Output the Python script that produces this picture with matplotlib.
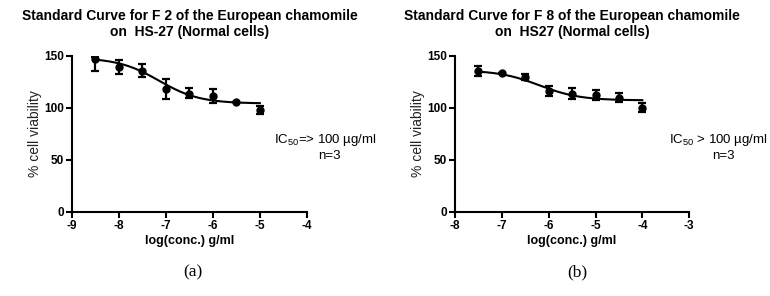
import numpy as np
import matplotlib
matplotlib.use('Agg')
import matplotlib.pyplot as plt
from matplotlib.ticker import FuncFormatter

plt.rcParams['font.family'] = ['Liberation Sans', 'DejaVu Sans']
plt.rcParams['mathtext.fontset'] = 'custom'
plt.rcParams['mathtext.rm'] = 'Liberation Sans'
plt.rcParams['mathtext.it'] = 'Liberation Sans'

# panel (a): F 2 on HS-27
logc_a = [-8.5, -8.0, -7.5, -7.0, -6.5, -6.0, -5.5, -5.0]
viab_a = [147, 139, 135.5, 118, 113.5, 111, 105.5, 98]
err_lo_a = [12, 6.5, 6, 10, 4.5, 7, 0, 4]
err_hi_a = [2, 6.5, 6, 10, 5, 7, 0, 4]
fit_a = [148, 104, -7.15, 1.0]  # top, bottom, logIC50, hill

# panel (b): F 8 on HS27
logc_b = [-7.5, -7.0, -6.5, -6.0, -5.5, -5.0, -4.5, -4.0]
viab_b = [135.5, 133.5, 129.5, 116, 113.5, 112, 109.5, 100]
err_b = [5, 0, 2.5, 5, 5, 5, 4.5, 4.5]
fit_b = [136, 107, -6.2, 1.0]

titles = ['Standard Curve for F 2 of the European chamomile\non  HS-27 (Normal cells)',
          'Standard Curve for F 8 of the European chamomile\non  HS27 (Normal cells)']
ic50_txt = [r'IC$_{50}$=> 100 µg/ml', r'IC$_{50}$ > 100 µg/ml']
xlims = [(-9, -4), (-8, -3)]
panel_lbl = ['(a)', '(b)']


def curve(x, p):
    top, bot, lic, h = p
    return bot + (top - bot) / (1 + 10 ** ((x - lic) * h))


fig = plt.figure(figsize=(7.7, 2.96), dpi=100)
axes = [fig.add_axes([0.0935, 0.285, 0.305, 0.527]),
        fig.add_axes([0.591, 0.285, 0.304, 0.527])]

data = [(logc_a, viab_a, [err_lo_a, err_hi_a], fit_a),
        (logc_b, viab_b, [err_b, err_b], fit_b)]

for i, ax in enumerate(axes):
    x, y, yerr, p = data[i]
    xx = np.linspace(min(x), max(x), 200)
    ax.plot(xx, curve(xx, p), color='black', lw=1.5, zorder=2)
    ax.errorbar(x, y, yerr=yerr, fmt='o', color='black', ms=5,
                elinewidth=1.6, capsize=3, capthick=1.6, zorder=3)
    ax.set_xlim(*xlims[i])
    ax.set_ylim(0, 150)
    ax.set_xticks(np.arange(xlims[i][0], xlims[i][1] + 1, 1))
    ax.set_yticks([0, 50, 100, 150])
    ax.xaxis.set_major_formatter(FuncFormatter(lambda v, pos: '%d' % v))
    for s in ['top', 'right']:
        ax.spines[s].set_visible(False)
    for s in ['left', 'bottom']:
        ax.spines[s].set_linewidth(1.5)
    ax.tick_params(direction='out', length=4, width=1.5, labelsize=8.5, pad=2)
    for lab in ax.get_xticklabels() + ax.get_yticklabels():
        lab.set_fontweight('bold')
    ax.set_xlabel('log(conc.) g/ml', fontsize=9, fontweight='bold', labelpad=2)
    ax.set_ylabel('% cell viability', fontsize=10, labelpad=1, color='#222222')
    ax.set_title(titles[i], fontsize=10, fontweight='bold', pad=14, linespacing=1.2)

fig.text(274 / 770, 1 - 140 / 296, ic50_txt[0], fontsize=9.5, va='center')
fig.text(318 / 770, 1 - 156 / 296, 'n=3', fontsize=9.5, va='center')
fig.text(669 / 770, 1 - 140 / 296, ic50_txt[1], fontsize=9.5, va='center')
fig.text(712 / 770, 1 - 156 / 296, 'n=3', fontsize=9.5, va='center')

fig.text(193 / 770, 1 - 272 / 296, panel_lbl[0], fontsize=12.5, ha='center', va='center',
         family='Liberation Serif')
fig.text(577 / 770, 1 - 272 / 296, panel_lbl[1], fontsize=12.5, ha='center', va='center',
         family='Liberation Serif')

fig.savefig('out.png', dpi=100)
